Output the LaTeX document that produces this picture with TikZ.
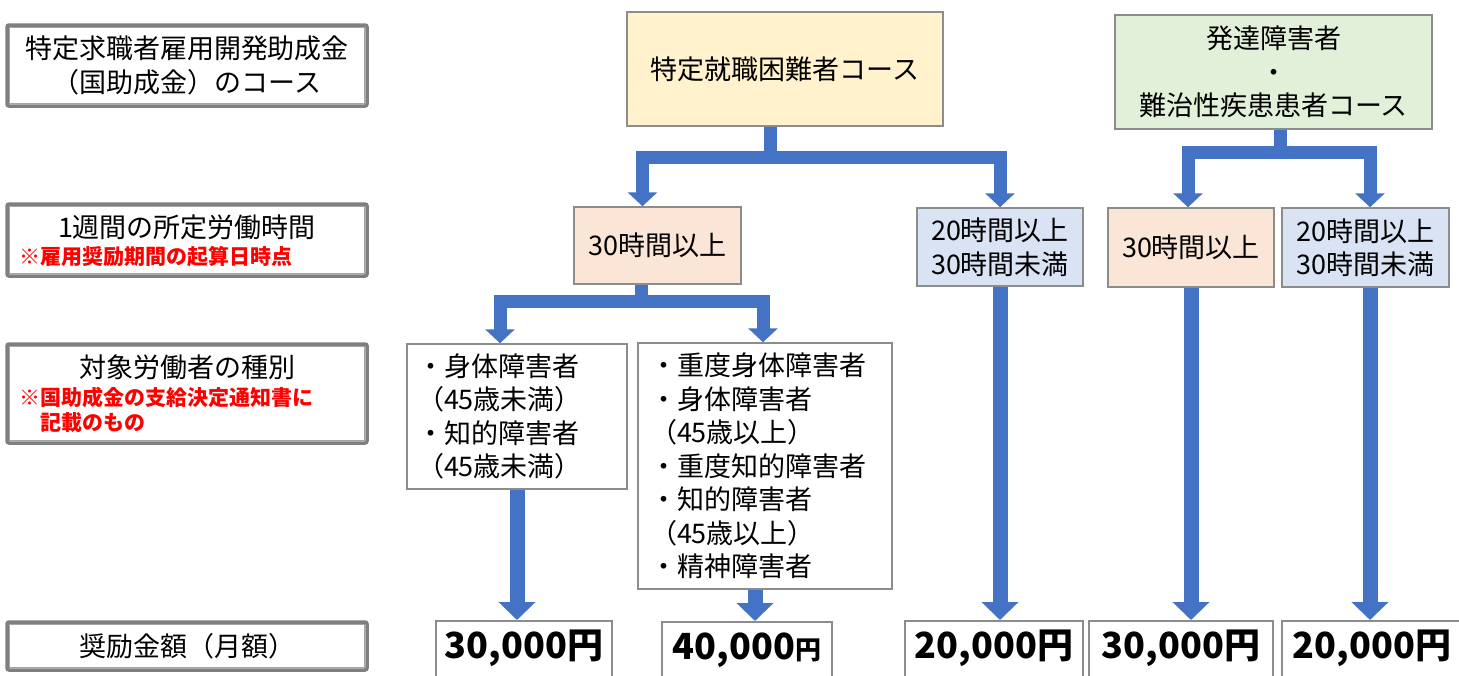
\documentclass[tikz,border=0pt]{standalone}
\usepackage{fontspec}
\setmainfont{Noto Sans CJK JP}
\usetikzlibrary{arrows.meta}
\definecolor{labgray}{HTML}{7F7F7F}
\definecolor{boxgray}{HTML}{8C8C8C}
\definecolor{arrblue}{HTML}{4472C4}
\definecolor{fillyellow}{HTML}{FFF2CC}
\definecolor{fillorange}{HTML}{FBE5D6}
\definecolor{fillblue}{HTML}{DAE3F3}
\definecolor{fillgreen}{HTML}{E2F0D9}
\newcommand{\jpmain}{\fontsize{27}{33.5}\selectfont}
\newcommand{\jpnote}{\fontsize{21}{25}\selectfont}
\newcommand{\jpyen}{\fontsize{36}{40}\selectfont}
\begin{document}
\begin{tikzpicture}[x=1pt, y=-1pt,
    lab/.style={draw=labgray, line width=3.5pt, rounded corners=2pt, minimum width=360pt, align=center, font=\jpmain, inner sep=0pt},
    labnote/.style={text=red, font=\jpnote\bfseries, align=left, anchor=west, inner sep=0pt},
    cbox/.style={draw=boxgray, line width=1.5pt, align=center, font=\jpmain, inner sep=0pt},
    wbox/.style={draw=boxgray, line width=1.5pt, fill=white, align=left, font=\jpmain, inner sep=0pt},
    ybox/.style={draw=boxgray, line width=1.5pt, fill=white, anchor=north, font=\jpyen\bfseries, inner xsep=0pt, inner ysep=8pt, text height=30pt, text depth=50pt},
    barrow/.style={draw=arrblue, line width=13pt, line join=miter, -{Triangle[width=29pt, length=14pt]}},
    varrow/.style={draw=arrblue, line width=15pt, -{Triangle[width=36pt, length=18pt]}}
]
\useasboundingbox (0,0) rectangle (1459,675);
\clip (0,0) rectangle (1459,675);

\node[lab, minimum height=81pt] (l1) at (187,65.5) {特定求職者雇用開発助成金\\（国助成金）のコース};
\node[lab, minimum height=72pt] (l2) at (187,240) {};
\node[lab, minimum height=99pt] (l3) at (187,393.5) {};
\node[lab, minimum height=48pt] (l4) at (187,646) {奨励金額（月額）};
\foreach \n in {l1,l2,l3,l4}
    \draw[labgray!70, line width=0.8pt] ([shift={(4.5pt,-4.5pt)}]\n.north west) rectangle ([shift={(-4.5pt,4.5pt)}]\n.south east);
\node[font=\jpmain] (l2t) at (187,227) {1週間の所定労働時間};
\node[labnote] (l2n) at (19,257) {※雇用奨励期間の起算日時点};
\node[font=\jpmain] (l3t) at (187,367) {対象労働者の種別};
\node[labnote] (l3n) at (19,409.5) {※国助成金の支給決定通知書に\\\hspace*{1em}記載のもの};

\node[cbox, fill=fillyellow, minimum width=316pt, minimum height=114pt] (c1) at (785,69) {特定就職困難者コース};
\node[cbox, fill=fillgreen, minimum width=317pt, minimum height=114pt] (c2) at (1273.5,72) {発達障害者\\・\\難治性疾患患者コース};

\node[cbox, fill=fillorange, minimum width=167pt, minimum height=77pt] (t1) at (657.5,245.5) {30時間以上};
\node[cbox, fill=fillblue, minimum width=166pt, minimum height=78pt] (t2) at (1000,247) {20時間以上\\30時間未満};
\node[cbox, fill=fillorange, minimum width=166pt, minimum height=79pt] (t3) at (1191,247.5) {30時間以上};
\node[cbox, fill=fillblue, minimum width=167pt, minimum height=79pt] (t4) at (1365.5,247.5) {20時間以上\\30時間未満};

\node[wbox, text width=200pt, minimum width=220pt, minimum height=145pt] (w1) at (517,416.5) {・身体障害者\\（45歳未満）\\・知的障害者\\（45歳未満）};
\node[wbox, text width=230pt, minimum width=254pt, minimum height=246pt] (w2) at (765,466) {・重度身体障害者\\・身体障害者\\（45歳以上）\\・重度知的障害者\\・知的障害者\\（45歳以上）\\・精神障害者};

\node[ybox, minimum width=176pt] (a1) at (524,620) {30,000円};
\node[ybox, minimum width=170pt] (a2) at (747,621) {40,000{\fontsize{26}{30}\selectfont 円}};
\node[ybox, minimum width=178pt] (a3) at (994,620) {20,000円};
\node[ybox, minimum width=184pt] (a4) at (1181,620) {30,000円};
\node[ybox, minimum width=180pt] (a5) at (1372,620) {20,000円};

\coordinate (j1) at (770,157);
\draw[barrow] (c1.south -| j1) -- (j1) -| ([xshift=-15pt]t1.north);
\draw[barrow] (j1) -| (t2.north);
\coordinate (j2) at (1280,152.5);
\draw[barrow] (c2.south -| j2) -- (j2) -| ([xshift=-3pt]t3.north);
\draw[barrow] (j2) -| ([xshift=4.5pt]t4.north);
\coordinate (j3) at (641,301);
\draw[barrow] (t1.south -| j3) -- (j3) -| ([xshift=-17pt]w1.north);
\draw[barrow] (j3) -| ([xshift=-2pt]w2.north);

\coordinate (s2) at ([xshift=-10pt]w2.south);
\draw[varrow] (w1.south) -- (w1.south |- a1.north);
\draw[varrow] (s2) -- (s2 |- a2.north);
\draw[varrow] (t2.south) -- (t2.south |- a3.north);
\draw[varrow] (t3.south) -- (t3.south |- a4.north);
\draw[varrow] ([xshift=4.5pt]t4.south) -- ([xshift=4.5pt]t4.south |- a5.north);
\end{tikzpicture}
\end{document}
